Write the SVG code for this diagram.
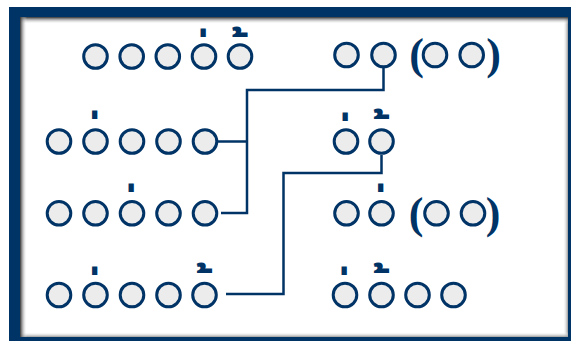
<svg xmlns="http://www.w3.org/2000/svg" width="571" height="341" viewBox="0 0 571 341">
<style>
.c{fill:#ececec;stroke:#003366;stroke-width:3}
.ln{fill:none;stroke:#003366;stroke-width:2.5}
.p{font-family:"Liberation Serif",serif;font-weight:bold;font-size:44px;fill:#003366;text-anchor:middle}
.m{font-family:"Noto Sans Thai","Noto Sans","DejaVu Sans",sans-serif;font-weight:bold;font-size:38px;fill:#003366;text-anchor:middle}
.t{font-size:46px}
</style>
<defs>
<linearGradient id="gT" x1="0" y1="0" x2="0" y2="1"><stop offset="0" stop-color="#333"/><stop offset="1" stop-color="#fff" stop-opacity="0"/></linearGradient>
<linearGradient id="gL" x1="0" y1="0" x2="1" y2="0"><stop offset="0" stop-color="#333"/><stop offset="1" stop-color="#fff" stop-opacity="0"/></linearGradient>
<linearGradient id="gR" x1="0" y1="0" x2="1" y2="0"><stop offset="0" stop-color="#fff" stop-opacity="0"/><stop offset="1" stop-color="#999"/></linearGradient>
<linearGradient id="gB" x1="0" y1="0" x2="0" y2="1"><stop offset="0" stop-color="#fff" stop-opacity="0"/><stop offset="1" stop-color="#999"/></linearGradient>
</defs>
<g id="frame">
<rect x="9" y="7" width="562" height="334" fill="#003366"/>
<rect x="20" y="17" width="548" height="320" fill="#fff"/>
<rect x="563" y="17" width="5" height="320" fill="url(#gR)"/>
<rect x="20" y="332" width="548" height="5" fill="url(#gB)"/>
<rect x="20" y="17" width="548" height="7" fill="url(#gT)"/>
<rect x="20" y="17" width="7" height="320" fill="url(#gL)"/>
</g>
<g id="connectors">
<polyline class="ln" points="218,141.5 247,141.5"/>
<polyline class="ln" points="221,213 247,213 247,90 383.5,90 383.5,68"/>
<polyline class="ln" points="226,294 283.5,294 283.5,173 381.5,173 381.5,155"/>
</g>
<g id="row1-left">
<circle class="c" cx="95.5" cy="56.5" r="11.8"/>
<circle class="c" cx="131.7" cy="56.5" r="11.8"/>
<circle class="c" cx="167.8" cy="56.5" r="11.8"/>
<circle class="c" cx="204" cy="56.5" r="11.8"/>
<circle class="c" cx="240" cy="56.5" r="11.8"/>
<text class="m" x="204" y="60">&#xA0;&#x0E48;</text>
<text class="m t" x="244" y="65.5">&#xA0;&#x0E49;</text>
</g>
<g id="row1-right">
<circle class="c" cx="346.5" cy="55" r="11.8"/>
<circle class="c" cx="383.5" cy="55" r="11.8"/>
<text class="p" x="416.5" y="69">(</text>
<circle class="c" cx="435" cy="55" r="11.8"/>
<circle class="c" cx="471.7" cy="55" r="11.8"/>
<text class="p" x="493.5" y="69">)</text>
</g>
<g id="row2-left">
<circle class="c" cx="59" cy="141.5" r="11.8"/>
<circle class="c" cx="95.5" cy="141.5" r="11.8"/>
<circle class="c" cx="132" cy="141.5" r="11.8"/>
<circle class="c" cx="168.5" cy="141.5" r="11.8"/>
<circle class="c" cx="205" cy="141.5" r="11.8"/>
<text class="m" x="95.5" y="142">&#xA0;&#x0E48;</text>
</g>
<g id="row2-right">
<circle class="c" cx="346" cy="141.5" r="11.8"/>
<circle class="c" cx="381.5" cy="141.5" r="11.8"/>
<text class="m" x="346" y="144">&#xA0;&#x0E48;</text>
<text class="m t" x="385.5" y="147.5">&#xA0;&#x0E49;</text>
</g>
<g id="row3-left">
<circle class="c" cx="59" cy="213.3" r="11.8"/>
<circle class="c" cx="95.5" cy="213.3" r="11.8"/>
<circle class="c" cx="132" cy="213.3" r="11.8"/>
<circle class="c" cx="168.5" cy="213.3" r="11.8"/>
<circle class="c" cx="205" cy="213.3" r="11.8"/>
<text class="m" x="132" y="215">&#xA0;&#x0E48;</text>
</g>
<g id="row3-right">
<circle class="c" cx="346.5" cy="213.3" r="11.8"/>
<circle class="c" cx="381.5" cy="213.3" r="11.8"/>
<text class="m" x="381.5" y="215">&#xA0;&#x0E48;</text>
<text class="p" x="416" y="227.5">(</text>
<circle class="c" cx="436.5" cy="213.3" r="11.8"/>
<circle class="c" cx="473" cy="213.3" r="11.8"/>
<text class="p" x="493" y="227.5">)</text>
</g>
<g id="row4-left">
<circle class="c" cx="59" cy="295" r="11.8"/>
<circle class="c" cx="95.5" cy="295" r="11.8"/>
<circle class="c" cx="132" cy="295" r="11.8"/>
<circle class="c" cx="168.5" cy="295" r="11.8"/>
<circle class="c" cx="204.5" cy="295" r="11.8"/>
<text class="m" x="95.5" y="298">&#xA0;&#x0E48;</text>
<text class="m t" x="208.5" y="301.5">&#xA0;&#x0E49;</text>
</g>
<g id="row4-right">
<circle class="c" cx="345" cy="295" r="11.8"/>
<circle class="c" cx="381.5" cy="295" r="11.8"/>
<circle class="c" cx="417.5" cy="295" r="11.8"/>
<circle class="c" cx="453.5" cy="295" r="11.8"/>
<text class="m" x="345" y="298">&#xA0;&#x0E48;</text>
<text class="m t" x="385.5" y="301.5">&#xA0;&#x0E49;</text>
</g>
</svg>
